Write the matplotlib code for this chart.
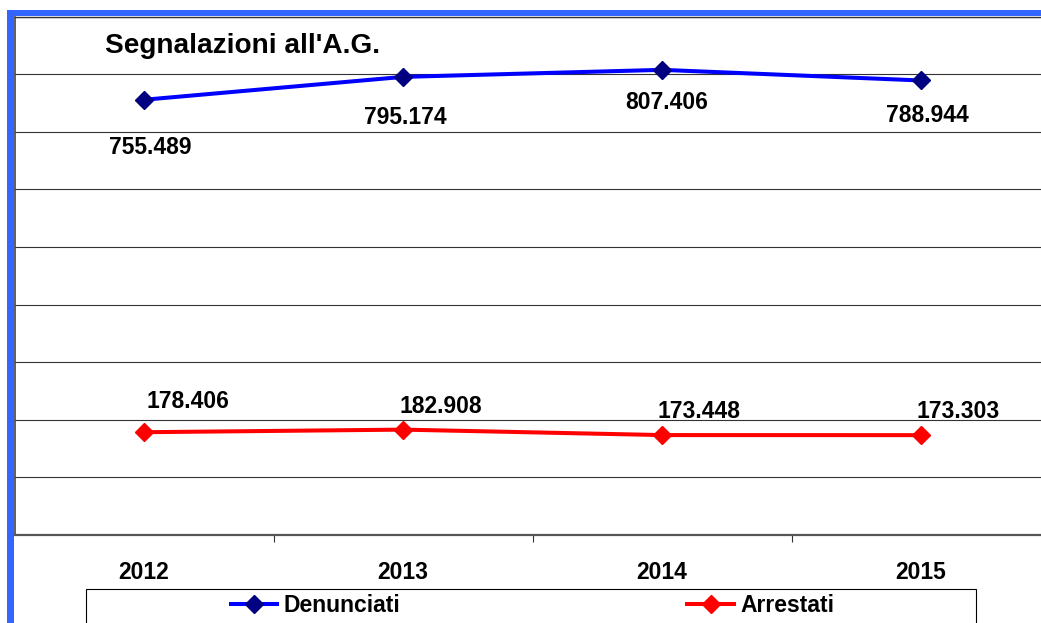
import numpy as np
import matplotlib
matplotlib.use('Agg')
import matplotlib.pyplot as plt
from matplotlib.patches import Rectangle

anni = ['2012', '2013', '2014', '2015']
denunciati = [755.489, 795.174, 807.406, 788.944]
arrestati = [178.406, 182.908, 173.448, 173.303]
titolo = "Segnalazioni all'A.G."

# label offsets in pixels (manual placement as in the original)
off_den = [(6, -48), (2, -41), (5, -33), (6, -35)]
off_arr = [(44, 31), (38, 23), (37, 24), (37, 24)]

W, H = 1041, 623
plt.rcParams['font.family'] = ['Liberation Sans', 'DejaVu Sans']
plt.rcParams['font.weight'] = 'bold'

fig = plt.figure(figsize=(W/100, H/100), dpi=100)
fig.patch.set_facecolor('white')

ax = fig.add_axes([14.5/W, (H-535)/H, 1036/W, (535-16.5)/H])
x = np.arange(len(anni))

ax.plot(x, denunciati, color='#0000FF', lw=2.9, marker='D', ms=9.5,
        mfc='#000080', mec='#000080', label='Denunciati', zorder=3)
ax.plot(x, arrestati, color='#FF0000', lw=2.9, marker='D', ms=9.5,
        mfc='#FF0000', mec='#FF0000', label='Arrestati', zorder=3)

for i in range(len(x)):
    ax.annotate(f'{denunciati[i]:.3f}', (x[i], denunciati[i]), xytext=off_den[i],
                textcoords='offset pixels', ha='center', va='center',
                fontsize=16.5, fontweight='bold')
    ax.annotate(f'{arrestati[i]:.3f}', (x[i], arrestati[i]), xytext=off_arr[i],
                textcoords='offset pixels', ha='center', va='center',
                fontsize=16.5, fontweight='bold')

ax.set_xlim(-0.5, 3.5)
ax.set_ylim(0, 900)
ax.set_yticks(np.arange(0, 901, 100))
ax.yaxis.grid(True, color='#333333', lw=0.8)
ax.set_axisbelow(True)
ax.tick_params(axis='y', left=False, labelleft=False)
ax.set_xticks(x)
ax.set_xticklabels(anni, fontsize=16.5, fontweight='bold')
ax.tick_params(axis='x', which='major', length=0, pad=19)
ax.set_xticks([0.5, 1.5, 2.5], minor=True)
ax.tick_params(axis='x', which='minor', length=5, width=0.8, color='#333333', direction='out')
ax.spines['left'].set_color('#444444')
ax.spines['left'].set_linewidth(1.2)
ax.spines['top'].set_color('#333333')
ax.spines['top'].set_linewidth(1.0)
ax.spines['bottom'].set_color('#555555')
ax.spines['bottom'].set_linewidth(1.6)
ax.spines['right'].set_visible(False)

ax.text(105/W, 1-46/H, titolo, transform=fig.transFigure, fontsize=20.2,
        fontweight='bold', ha='left', va='center')

# blue outer frame
fig.add_artist(Rectangle((7/W, 0), 6.5/W, (H-10)/H, transform=fig.transFigure,
                         facecolor='#3366FF', edgecolor='none'))
fig.add_artist(Rectangle((7/W, (H-16)/H), (W-7)/W, 6/H, transform=fig.transFigure,
                         facecolor='#3366FF', edgecolor='none'))

# legend box
fig.add_artist(Rectangle((86/W, -20/H), 890/W, (H-589+20)/H, transform=fig.transFigure,
                         facecolor='white', edgecolor='black', lw=0.8))
handles, labels = ax.get_legend_handles_labels()
fig.legend(handles, labels, loc='center', bbox_to_anchor=(532.5/W, 1-606/H),
           ncol=2, frameon=False, fontsize=16.5, handlelength=2.05,
           handletextpad=0.28, columnspacing=12.5, borderpad=0)

fig.savefig('out.png', dpi=100)
